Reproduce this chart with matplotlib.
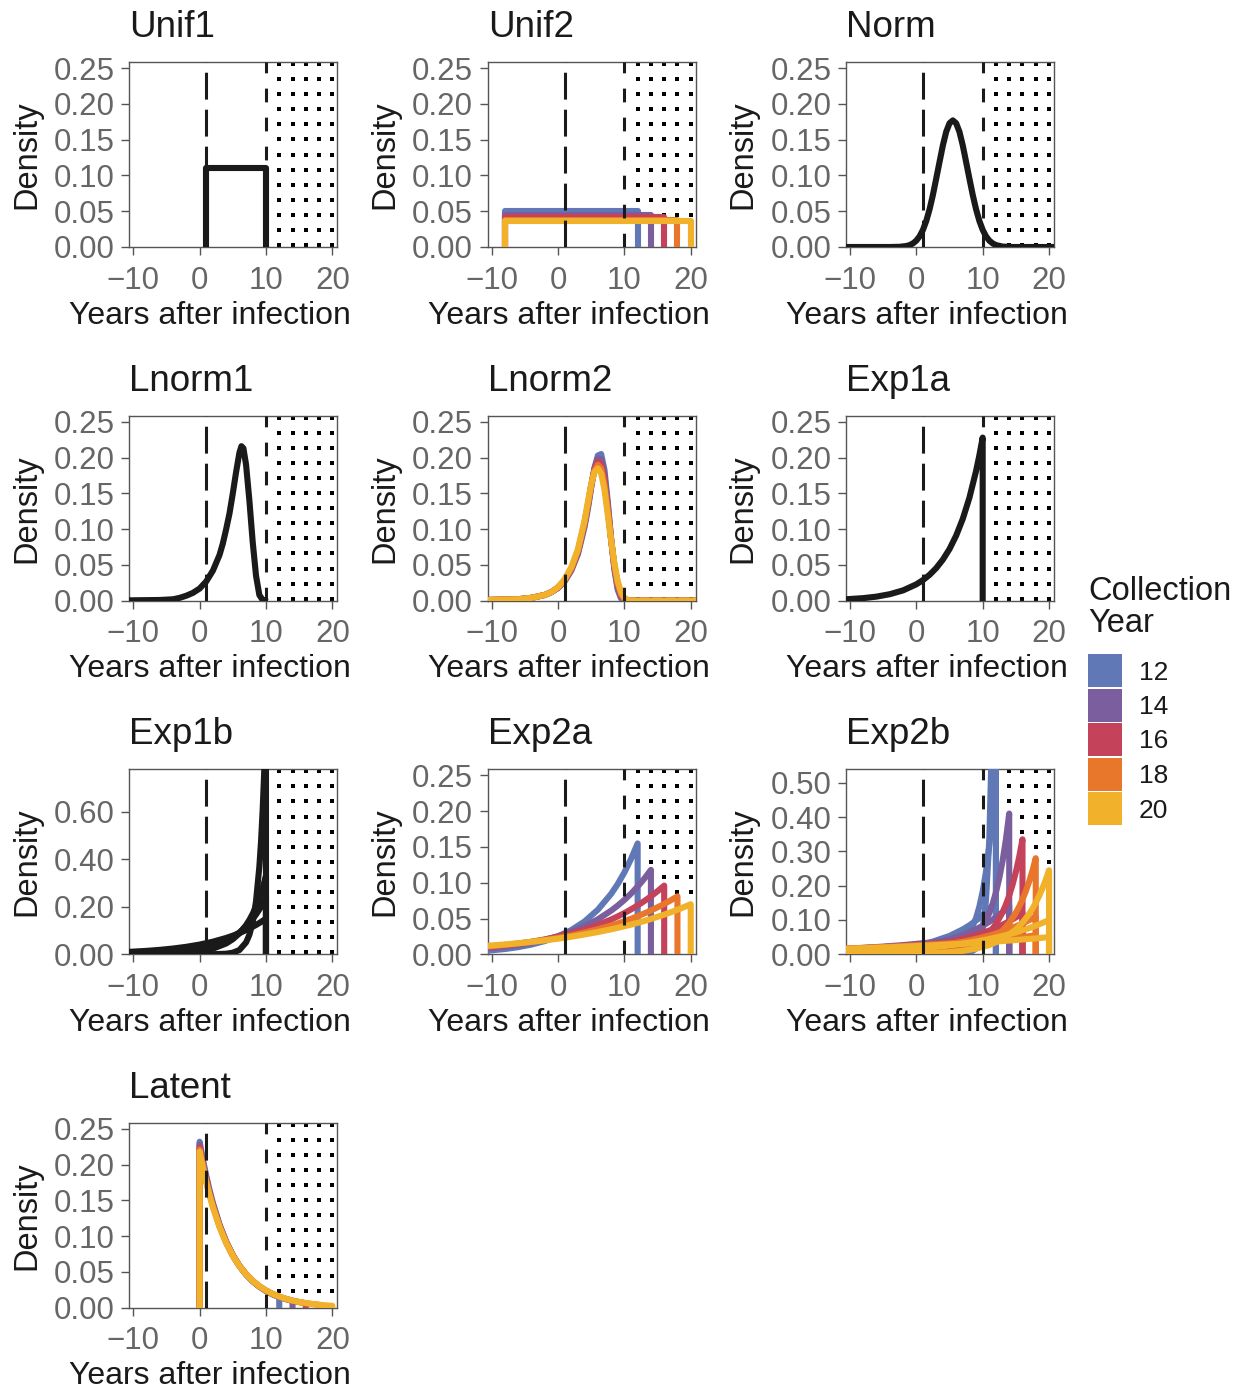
import numpy as np
import matplotlib
matplotlib.use('Agg')
import matplotlib.pyplot as plt
from matplotlib.patches import Rectangle
from matplotlib.ticker import FormatStrFormatter

plt.rcParams['font.family'] = ['Liberation Sans', 'DejaVu Sans']

# ---- data ----
years = [12, 14, 16, 18, 20]
year_colors = ['#6079B6', '#7B5E9D', '#C4425A', '#E8772B', '#F2B12B']
black = '#1a1a1a'

unif1_x = [1, 1, 10, 10]
unif1_y = [0, 0.111, 0.111, 0]

unif2_left = -8
unif2_heights = [0.050, 0.045, 0.042, 0.038, 0.036]

norm_x = [-10.6, -4, -2.5, -1.5, -1, -0.5, 0, 0.5, 1, 1.5, 2, 2.5, 3, 3.5, 4, 4.5, 5, 5.5,
          6, 6.5, 7, 7.5, 8, 8.5, 9, 9.5, 10, 10.5, 11, 11.5, 12, 13, 14.5, 20.75]
norm_y = [0, 0, 0.0003, 0.0014, 0.0027, 0.0051, 0.0089, 0.0150, 0.0240, 0.0365, 0.0529, 0.0729,
          0.0957, 0.119, 0.142, 0.161, 0.173, 0.177, 0.173, 0.161, 0.142, 0.119, 0.0957, 0.0729,
          0.0529, 0.0365, 0.0240, 0.0150, 0.0089, 0.0051, 0.0027, 0.0006, 0, 0]

lnorm1_x = [-10.6, -6, -4, -3, -2, -1, 0, 1, 2, 3, 3.5, 4, 4.5, 5, 5.5, 6, 6.3, 6.6, 7, 7.5,
            8, 8.5, 9, 9.5, 9.8]
lnorm1_y = [0.0005, 0.001, 0.002, 0.004, 0.007, 0.011, 0.017, 0.027, 0.042, 0.064, 0.080, 0.100,
            0.122, 0.150, 0.180, 0.207, 0.216, 0.213, 0.190, 0.140, 0.082, 0.035, 0.008, 0.001, 0]

lnorm2_x = [-10.6, -6, -4, -2, -1, 0, 1, 2, 3, 4, 4.5, 5, 5.5, 6, 6.5, 7, 7.5, 8, 8.5, 9, 9.5,
            10, 10.5, 11, 20.75]
lnorm2_y = [
    [0.001, 0.002, 0.004, 0.008, 0.012, 0.018, 0.027, 0.042, 0.065, 0.103, 0.128, 0.158, 0.186,
     0.203, 0.205, 0.183, 0.138, 0.087, 0.043, 0.015, 0.003, 0.0005, 0, 0, 0],
    [0.001, 0.002, 0.004, 0.008, 0.012, 0.018, 0.028, 0.043, 0.067, 0.106, 0.131, 0.160, 0.185,
     0.199, 0.198, 0.176, 0.134, 0.086, 0.045, 0.018, 0.005, 0.001, 0, 0, 0],
    [0.001, 0.002, 0.004, 0.008, 0.012, 0.018, 0.028, 0.044, 0.068, 0.108, 0.133, 0.161, 0.184,
     0.195, 0.191, 0.170, 0.130, 0.086, 0.047, 0.021, 0.007, 0.002, 0.0005, 0, 0],
    [0.001, 0.002, 0.004, 0.008, 0.012, 0.019, 0.029, 0.045, 0.070, 0.110, 0.135, 0.162, 0.182,
     0.190, 0.185, 0.163, 0.125, 0.085, 0.050, 0.024, 0.009, 0.003, 0.001, 0, 0],
    [0.001, 0.002, 0.004, 0.008, 0.012, 0.019, 0.030, 0.047, 0.072, 0.112, 0.138, 0.163, 0.180,
     0.185, 0.178, 0.155, 0.120, 0.085, 0.052, 0.027, 0.012, 0.004, 0.001, 0, 0],
]

exp1a_x = [-10.6, -8, -6, -4, -2, 0, 1, 2, 3, 4, 5, 6, 7, 8, 9, 9.5, 10, 10]
exp1a_y = [0.002, 0.0036, 0.0057, 0.0091, 0.0144, 0.0229, 0.0288, 0.0362, 0.0456, 0.0574,
           0.0722, 0.0909, 0.1144, 0.1439, 0.1811, 0.2032, 0.228, 0]

exp1b_x = [-10.6, -8, -6, -4, -2, 0, 2, 4, 5, 6, 7, 7.5, 8, 8.5, 9, 9.25, 9.5, 9.75, 10]
exp1b_y = [
    [0, 0, 0, 0, 0, 0, 0.0003, 0.0025, 0.0067, 0.018, 0.050, 0.082, 0.135, 0.223, 0.368, 0.472,
     0.607, 0.779, 1.0],
    [0.0004, 0.0009, 0.0017, 0.0033, 0.0063, 0.0122, 0.0236, 0.0456, 0.0634, 0.0881, 0.1226,
     0.1446, 0.1706, 0.2012, 0.2373, 0.2576, 0.2798, 0.304, 0.33],
    [0.0017, 0.0032, 0.0052, 0.0083, 0.0135, 0.0218, 0.0352, 0.0569, 0.0723, 0.0919, 0.1168,
     0.1317, 0.1485, 0.1674, 0.1888, 0.2005, 0.2129, 0.226, 0.24],
    [0.0103, 0.0144, 0.0187, 0.0243, 0.0315, 0.0409, 0.053, 0.0688, 0.0783, 0.0892, 0.1016,
     0.1084, 0.1157, 0.1234, 0.1317, 0.136, 0.1406, 0.1452, 0.15],
]

exp2a_x = [-10.6, -8, -6, -4, -2, 0, 2, 4, 6, 8, 9, 10, 11, 12, 13, 14, 15, 16, 17, 18, 19, 20]
exp2a_y = [
    [0.0050, 0.0074, 0.0100, 0.0136, 0.0185, 0.0250, 0.0339, 0.0459, 0.0623, 0.0844, 0.0982,
     0.1144, 0.1332, 0.155],
    [0.0079, 0.0105, 0.0131, 0.0163, 0.0203, 0.0253, 0.0315, 0.0393, 0.0489, 0.0610, 0.0681,
     0.0760, 0.0848, 0.0947, 0.1057, 0.118],
    [0.0100, 0.0125, 0.0148, 0.0175, 0.0208, 0.0246, 0.0292, 0.0346, 0.0410, 0.0486, 0.0530,
     0.0576, 0.0628, 0.0683, 0.0744, 0.0810, 0.0882, 0.096],
    [0.0109, 0.0131, 0.0151, 0.0174, 0.0200, 0.0230, 0.0264, 0.0304, 0.0350, 0.0402, 0.0431,
     0.0463, 0.0496, 0.0532, 0.0571, 0.0612, 0.0657, 0.0704, 0.0755, 0.081],
    [0.0119, 0.0138, 0.0155, 0.0174, 0.0195, 0.0219, 0.0246, 0.0277, 0.0311, 0.0349, 0.0370,
     0.0392, 0.0415, 0.0440, 0.0466, 0.0494, 0.0524, 0.0555, 0.0588, 0.0623, 0.0661, 0.070],
]

exp2b_x = [
    [-10.6, -6, -2, 2, 5, 7, 8, 9, 9.5, 10, 10.5, 11, 11.5, 12],
    [-10.6, -6, -2, 2, 5, 7, 9, 10, 11, 11.5, 12, 12.5, 13, 13.5, 14],
    [-10.6, -6, -2, 2, 5, 7, 9, 11, 12, 13, 13.5, 14, 14.5, 15, 15.5, 16],
    [-10.6, -6, -2, 2, 5, 7, 9, 11, 13, 14, 15, 15.5, 16, 16.5, 17, 17.5, 18],
    [-10.6, -6, -2, 2, 5, 7, 9, 11, 13, 15, 16, 17, 17.5, 18, 18.5, 19, 19.5, 20],
]
exp2b_y = [
    [[0, 0, 0, 0, 0, 0.0008, 0.0037, 0.0167, 0.0353, 0.0747, 0.158, 0.335, 0.709, 1.5],
     [0, 0, 0.0002, 0.0022, 0.0117, 0.0351, 0.0609, 0.1056, 0.139, 0.183, 0.241, 0.317, 0.418, 0.55],
     [0.0050, 0.0100, 0.0185, 0.0339, 0.0535, 0.0725, 0.0844, 0.0982, 0.106, 0.1144, 0.1234,
      0.1332, 0.1437, 0.155]],
    [[0, 0.0001, 0.0006, 0.0030, 0.0102, 0.0232, 0.0528, 0.0795, 0.1198, 0.1471, 0.1806, 0.2217,
      0.272, 0.334, 0.41],
     [0.0057, 0.0104, 0.0175, 0.0294, 0.0435, 0.0564, 0.0731, 0.0832, 0.0948, 0.1012, 0.1079,
      0.1152, 0.1229, 0.1312, 0.14],
     [0.0160, 0.0211, 0.0268, 0.0341, 0.0408, 0.0460, 0.0519, 0.0550, 0.0584, 0.0602, 0.0620,
      0.0639, 0.0659, 0.0679, 0.07]],
    [[0, 0.0002, 0.0008, 0.0031, 0.0084, 0.0164, 0.0321, 0.0627, 0.0877, 0.1226, 0.1450, 0.1714,
      0.2027, 0.2396, 0.2833, 0.335],
     [0.0064, 0.0107, 0.0166, 0.0257, 0.0358, 0.0446, 0.0556, 0.0692, 0.0773, 0.0863, 0.0912,
      0.0963, 0.1018, 0.1075, 0.1136, 0.12],
     [0.0159, 0.0200, 0.0244, 0.0298, 0.0346, 0.0383, 0.0423, 0.0467, 0.0491, 0.0516, 0.0529,
      0.0543, 0.0556, 0.0571, 0.0585, 0.06]],
    [[0.0001, 0.0003, 0.0010, 0.0032, 0.0074, 0.0129, 0.0225, 0.0394, 0.0690, 0.0914, 0.1209,
      0.1390, 0.1599, 0.1840, 0.2116, 0.2434, 0.28],
     [0.0063, 0.0100, 0.0149, 0.0222, 0.0300, 0.0366, 0.0447, 0.0546, 0.0667, 0.0737, 0.0815,
      0.0857, 0.0901, 0.0947, 0.0995, 0.1046, 0.11],
     [0.0166, 0.0201, 0.0238, 0.0281, 0.0317, 0.0346, 0.0375, 0.0409, 0.0445, 0.0464, 0.0485,
      0.0495, 0.0506, 0.0516, 0.0527, 0.0539, 0.055]],
    [[0.0001, 0.0004, 0.0011, 0.0030, 0.0062, 0.0101, 0.0165, 0.0270, 0.0441, 0.0720, 0.0920,
      0.1175, 0.1328, 0.1501, 0.1697, 0.1918, 0.2167, 0.245],
     [0.0064, 0.0096, 0.0138, 0.0198, 0.0259, 0.0310, 0.0372, 0.0445, 0.0533, 0.0638, 0.0698,
      0.0763, 0.0799, 0.0835, 0.0874, 0.0914, 0.0956, 0.10],
     [0.0161, 0.0191, 0.0222, 0.0257, 0.0287, 0.0309, 0.0333, 0.0358, 0.0386, 0.0416, 0.0431,
      0.0448, 0.0456, 0.0464, 0.0473, 0.0482, 0.0491, 0.05]],
]

latent_x = [0, 0, 0.5, 1, 1.5, 2, 3, 4, 5, 6, 7, 8, 9, 10, 11, 12, 13, 14, 15, 16, 17, 18, 19, 20]
latent_y = [
    [0, 0.232, 0.2068, 0.1843, 0.1643, 0.1465, 0.1164, 0.0925, 0.0735, 0.0584, 0.0464, 0.0368,
     0.0293, 0.0233, 0.0185, 0.0147],
    [0, 0.228, 0.2035, 0.1817, 0.1622, 0.1448, 0.1154, 0.0920, 0.0733, 0.0584, 0.0465, 0.0371,
     0.0296, 0.0236, 0.0188, 0.0150, 0.0119, 0.0095],
    [0, 0.224, 0.2003, 0.1790, 0.1601, 0.1431, 0.1144, 0.0914, 0.0731, 0.0584, 0.0467, 0.0373,
     0.0298, 0.0239, 0.0191, 0.0152, 0.0122, 0.0097, 0.0078, 0.0062],
    [0, 0.221, 0.1978, 0.1770, 0.1584, 0.1418, 0.1135, 0.0909, 0.0728, 0.0583, 0.0467, 0.0374,
     0.0300, 0.0240, 0.0192, 0.0154, 0.0123, 0.0099, 0.0079, 0.0063, 0.0051, 0.0041],
    [0, 0.218, 0.1953, 0.175, 0.1567, 0.1404, 0.1127, 0.0904, 0.0726, 0.0582, 0.0467, 0.0375,
     0.0301, 0.0242, 0.0194, 0.0156, 0.0125, 0.0100, 0.0080, 0.0065, 0.0052, 0.0042, 0.0033,
     0.0027],
]

# ---- layout (pixels) ----
W, H = 1239, 1389
col_left = [129.3, 487.7, 846.0]
row_top = [62.0, 415.7, 769.3, 1122.7]
ax_w, ax_h = 208, 185
LW = 4.4

fig = plt.figure(figsize=(W / 100, H / 100), dpi=100)

dot_cols = [12, 14, 16, 18, 20]
dot_rows = 0.011 + 0.0815 * np.arange(13)


def make_panel(r, c, title, ymax=0.2586, yticks=(0, 0.05, 0.10, 0.15, 0.20, 0.25)):
    ax = fig.add_axes([col_left[c] / W, 1 - (row_top[r] + ax_h) / H, ax_w / W, ax_h / H])
    ax.set_xlim(-10.6, 20.75)
    ax.set_ylim(0, ymax)
    ax.set_xticks([-10, 0, 10, 20])
    ax.set_yticks(list(yticks))
    ax.yaxis.set_major_formatter(FormatStrFormatter('%.2f'))
    ax.tick_params(length=5.5, width=1, color='#555555', labelsize=22.5, labelcolor='#666666')
    ax.tick_params(axis='x', pad=8)
    ax.tick_params(axis='y', pad=5)
    for s in ax.spines.values():
        s.set_color('#555555')
        s.set_linewidth(1)
    ax.set_title(title, loc='left', fontsize=26.5, pad=18, color=black)
    ax.set_xlabel('Years after infection', fontsize=23, color=black)
    ax.set_ylabel('Density', fontsize=23.5, color=black)
    ax.xaxis.set_label_coords(0.39, -0.29)
    ax.yaxis.set_label_coords(-0.42, 0.5)
    # dotted region after year 10
    trans = ax.get_xaxis_transform()
    for xd in dot_cols:
        ax.plot([xd] * len(dot_rows), dot_rows, 's', ms=3.0, color='black', mew=0,
                transform=trans, zorder=1)
    ax.axvline(1, color=black, lw=2.2, ls=(0, (8.8, 3.3)), zorder=5)
    ax.axvline(10, color=black, lw=2.2, ls=(0, (4.5, 5)), zorder=5)
    return ax


def trunc_line(ax, x, y, color):
    xs = list(x[:len(y)]) + [x[len(y) - 1]]
    ys = list(y) + [0]
    ax.plot(xs, ys, color=color, lw=LW, solid_joinstyle='round', zorder=3)


# Unif1
ax = make_panel(0, 0, 'Unif1')
ax.plot(unif1_x, unif1_y, color=black, lw=LW, zorder=3)

# Unif2
ax = make_panel(0, 1, 'Unif2')
for yr, h, col in zip(years, unif2_heights, year_colors):
    ax.plot([unif2_left, unif2_left, yr, yr], [0, h, h, 0], color=col, lw=LW, zorder=3)

# Norm
ax = make_panel(0, 2, 'Norm')
ax.plot(norm_x, norm_y, color=black, lw=LW, zorder=3)

# Lnorm1
ax = make_panel(1, 0, 'Lnorm1')
ax.plot(lnorm1_x, lnorm1_y, color=black, lw=LW, zorder=3)

# Lnorm2
ax = make_panel(1, 1, 'Lnorm2')
for yv, col in zip(lnorm2_y, year_colors):
    ax.plot(lnorm2_x, yv, color=col, lw=LW, zorder=3)

# Exp1a
ax = make_panel(1, 2, 'Exp1a')
ax.plot(exp1a_x, exp1a_y, color=black, lw=LW, zorder=3)

# Exp1b
ax = make_panel(2, 0, 'Exp1b', ymax=0.778, yticks=(0, 0.2, 0.4, 0.6))
for yv in exp1b_y:
    trunc_line(ax, exp1b_x, yv, black)

# Exp2a
ax = make_panel(2, 1, 'Exp2a')
for yv, col in zip(exp2a_y, year_colors):
    trunc_line(ax, exp2a_x, yv, col)

# Exp2b
ax = make_panel(2, 2, 'Exp2b', ymax=0.539, yticks=(0, 0.1, 0.2, 0.3, 0.4, 0.5))
for xv, group, col in zip(exp2b_x, exp2b_y, year_colors):
    for yv in group:
        trunc_line(ax, xv, yv, col)

# Latent
ax = make_panel(3, 0, 'Latent')
for yv, col in zip(latent_y, year_colors):
    trunc_line(ax, latent_x, yv, col)

# legend (pixel coordinates)
lax = fig.add_axes([0, 0, 1, 1], zorder=-1)
lax.set_xlim(0, W)
lax.set_ylim(H, 0)
lax.axis('off')
lax.text(1088, 600, 'Collection', fontsize=23.5, color=black, va='baseline', ha='left')
lax.text(1088, 632, 'Year', fontsize=23.5, color=black, va='baseline', ha='left')
for i, (yr, col) in enumerate(zip(years, year_colors)):
    top = 654 + i * 34.5
    lax.add_patch(Rectangle((1088, top), 34, 33, facecolor=col, edgecolor='none'))
    lax.text(1139, top + 16.5 + 9, str(yr), fontsize=19, color=black, va='baseline', ha='left')

fig.savefig('out.png', dpi=100)
